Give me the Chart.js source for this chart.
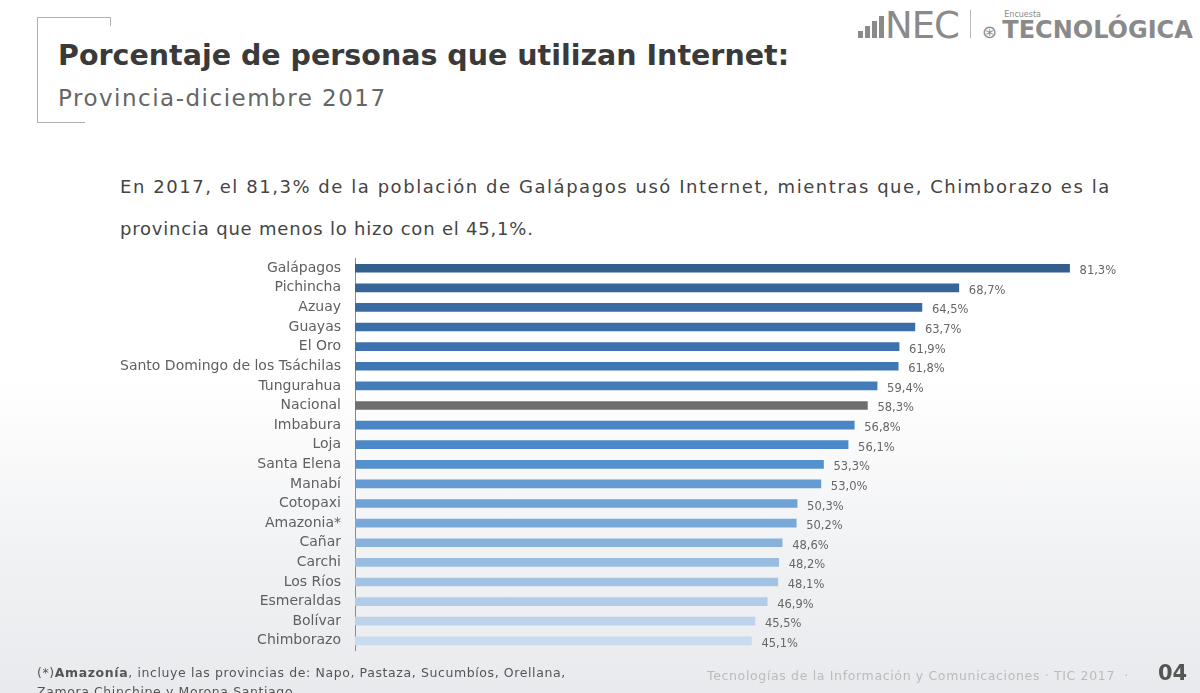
<!DOCTYPE html>
<html>
<head>
<meta charset="utf-8">
<script src="https://cdn.jsdelivr.net/npm/chart.js@4"></script>
<style>
  html, body { margin: 0; padding: 0; }
  body {
    width: 1200px; height: 693px; overflow: hidden; position: relative;
    font-family: "DejaVu Sans", sans-serif;
    background: linear-gradient(180deg, #ffffff 0%, #ffffff 55%, #f1f2f4 80%, #e9eaed 100%);
  }
  .abs { position: absolute; white-space: nowrap; }
  .bracket-v { left: 37px; top: 17px; width: 1px; height: 106px; background: #b0b0b0; }
  .bracket-t { left: 37px; top: 17px; width: 74px; height: 1px; background: #b0b0b0; }
  .bracket-tk { left: 110px; top: 17px; width: 1px; height: 9px; background: #b0b0b0; }
  .bracket-b { left: 37px; top: 122px; width: 48px; height: 1px; background: #b0b0b0; }
  #title { left: 58px; top: 39px; font-size: 28.5px; font-weight: bold; color: #3a3a3a; }
  #subtitle { left: 58px; top: 85px; font-size: 23px; letter-spacing: 1.5px; color: #666; }
  .intro { left: 120px; font-size: 18px; color: #444; }
  #logo { left: 858px; top: 4px; color: #8a8a8a; }
  #foot { left: 37px; top: 663px; font-size: 12.5px; letter-spacing: 0.6px; color: #555; line-height: 19px; }
  #foot2 { left: 707px; top: 668px; font-size: 12.5px; letter-spacing: 0.65px; color: #bbb; }
  #page { left: 1158px; top: 661px; font-size: 21px; font-weight: bold; color: #555; }
  #wrap { position: absolute; left: 0; top: 236px; width: 1200px; height: 437px; }
  .lb { display: inline-block; width: 5px; background: #8a8a8a; margin-right: 2px; }
</style>
</head>
<body>
<div class="abs bracket-v"></div>
<div class="abs bracket-t"></div>
<div class="abs bracket-tk"></div>
<div class="abs bracket-b"></div>
<div class="abs" id="title">Porcentaje de personas que utilizan Internet:</div>
<div class="abs" id="subtitle">Provincia-diciembre 2017</div>
<div class="abs intro" style="top:176px;letter-spacing:1.55px">En 2017, el 81,3% de la población de Galápagos usó Internet, mientras que, Chimborazo es la</div>
<div class="abs intro" style="top:218px;letter-spacing:0.8px">provincia que menos lo hizo con el 45,1%.</div>

<div class="abs" id="logo">
  <span class="lb" style="height:7px"></span><span class="lb" style="height:12px"></span><span class="lb" style="height:17px"></span><span class="lb" style="height:22px;margin-right:1px"></span><span style="font-size:37px;letter-spacing:-1px">NEC</span>
  <span style="display:inline-block;width:1px;height:28px;background:#bbb;margin:0 6px"></span>
  <span style="font-size:18px">⊛</span>
  <span style="position:relative;font-size:24px;font-weight:bold">TECNOLÓGICA<span style="position:absolute;left:2px;top:-6px;font-size:8px;font-weight:normal">Encuesta</span></span>
</div>

<div id="wrap"><canvas id="chart"></canvas></div>

<div class="abs" id="foot">(*)<b>Amazonía</b>, incluye las provincias de: Napo, Pastaza, Sucumbíos, Orellana,<br>Zamora Chinchipe y Morona Santiago.</div>
<div class="abs" id="foot2">Tecnologías de la Información y Comunicaciones · TIC 2017 &nbsp;·</div>
<div class="abs" id="page">04</div>

<script>
const provinces = ["Galápagos", "Pichincha", "Azuay", "Guayas", "El Oro",
  "Santo Domingo de los Tsáchilas", "Tungurahua", "Nacional", "Imbabura", "Loja",
  "Santa Elena", "Manabí", "Cotopaxi", "Amazonia*", "Cañar", "Carchi",
  "Los Ríos", "Esmeraldas", "Bolívar", "Chimborazo"];
const usage = [81.3, 68.7, 64.5, 63.7, 61.9, 61.8, 59.4, 58.3, 56.8, 56.1,
  53.3, 53.0, 50.3, 50.2, 48.6, 48.2, 48.1, 46.9, 45.5, 45.1];
const barColors = ["#335f8e", "#36659a", "#3a6aa3", "#3b6ea9", "#3d72ae",
  "#3f77b3", "#437db9", "#6e6e6e", "#4a86c6", "#4d89c9",
  "#5591cd", "#659bd2", "#6fa2d5", "#79a9d8", "#88b2dc",
  "#98bde1", "#a3c3e4", "#b1cce8", "#bcd3eb", "#c8dbef"];

// value labels at the end of each bar
const valueLabels = {
  id: "valueLabels",
  afterDatasetsDraw(chart) {
    const ctx = chart.ctx;
    const meta = chart.getDatasetMeta(0);
    ctx.save();
    ctx.font = "11.5px 'DejaVu Sans', sans-serif";
    ctx.fillStyle = "#666";
    ctx.textBaseline = "middle";
    meta.data.forEach((bar, i) => {
      const txt = usage[i].toFixed(1).replace(".", ",") + "%";
      ctx.fillText(txt, bar.x + 10, bar.y + 3);
    });
    ctx.restore();
  }
};

new Chart(document.getElementById("chart").getContext("2d"), {
  type: "bar",
  data: {
    labels: provinces,
    datasets: [{ data: usage, backgroundColor: barColors, barThickness: 8 }]
  },
  options: {
    indexAxis: "y",
    responsive: true,
    maintainAspectRatio: false,
    animation: false,
    layout: { padding: { left: 0, right: 10, top: 0, bottom: 0 } },
    plugins: { legend: { display: false }, tooltip: { enabled: false } },
    scales: {
      x: { display: false, min: 0, max: 95 },
      y: {
        afterFit(scale) { scale.width = 355; },
        grid: { display: false, drawTicks: false },
        border: { display: true, color: "#8a8a8a", width: 1 },
        ticks: { color: "#606060", padding: 14, font: { family: "DejaVu Sans", size: 14 } }
      }
    }
  },
  plugins: [valueLabels]
});
</script>
</body>
</html>
